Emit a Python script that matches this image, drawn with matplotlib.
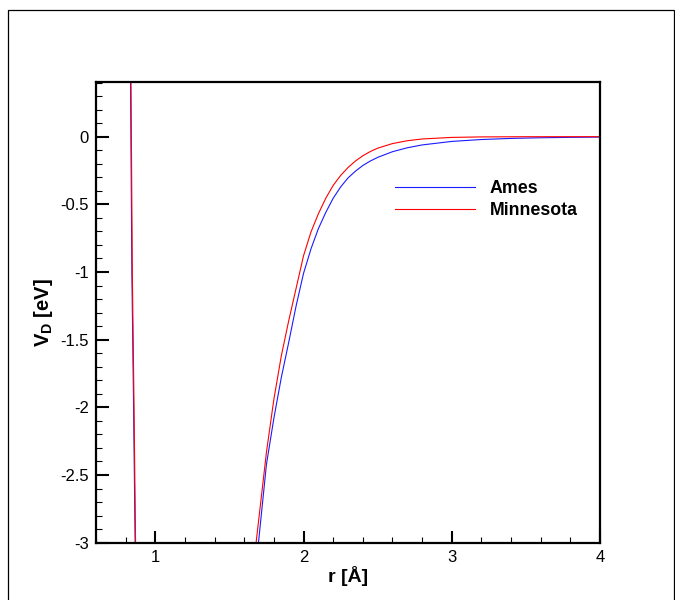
import matplotlib
matplotlib.use("Agg")
import matplotlib.pyplot as plt
from matplotlib.patches import Rectangle
from matplotlib.ticker import MultipleLocator, FixedLocator

plt.rcParams['font.family'] = ['Liberation Sans', 'DejaVu Sans']
plt.rcParams['axes.unicode_minus'] = False
plt.rcParams['mathtext.fontset'] = 'custom'
plt.rcParams['mathtext.bf'] = 'Liberation Sans:bold'
plt.rcParams['mathtext.rm'] = 'Liberation Sans'

# Ames potential
r_ames = [0.826, 0.833, 0.842, 0.853, 0.864, 0.869,
          1.660, 1.696, 1.750, 1.800, 1.850, 1.900, 1.950, 2.000, 2.050, 2.100,
          2.150, 2.200, 2.250, 2.300, 2.350, 2.400, 2.450, 2.500, 2.600, 2.700,
          2.800, 3.000, 3.200, 3.400, 3.600, 3.800, 4.000]
v_ames = [1.0, 0.4, -1.0, -1.95, -3.0, -3.5,
          -3.3, -3.0, -2.42, -2.08, -1.78, -1.52, -1.25, -1.01, -0.83, -0.68,
          -0.56, -0.455, -0.372, -0.305, -0.255, -0.213, -0.18, -0.153, -0.111, -0.082,
          -0.061, -0.035, -0.021, -0.0128, -0.008, -0.005, -0.003]

# Minnesota potential
r_minn = [0.829, 0.836, 0.845, 0.856, 0.867, 0.872,
          1.646, 1.680, 1.750, 1.800, 1.850, 1.900, 1.950, 2.000, 2.050, 2.100,
          2.150, 2.200, 2.250, 2.300, 2.350, 2.400, 2.450, 2.500, 2.600, 2.700,
          2.800, 3.000, 3.200, 3.500, 4.000]
v_minn = [1.0, 0.4, -1.0, -1.95, -3.0, -3.5,
          -3.3, -3.0, -2.33, -1.94, -1.62, -1.36, -1.12, -0.88, -0.705, -0.57,
          -0.455, -0.36, -0.287, -0.228, -0.18, -0.141, -0.11, -0.085, -0.051, -0.030,
          -0.017, -0.0054, -0.0017, -0.0003, 0.0]

labels = ["Ames", "Minnesota"]
x_major = [1, 2, 3, 4]
y_major = [0, -0.5, -1, -1.5, -2, -2.5, -3]
y_labels = ["0", "-0.5", "-1", "-1.5", "-2", "-2.5", "-3"]

fig = plt.figure(figsize=(6.75, 6.0), dpi=100)
ax = fig.add_axes([96/675, 1-542.7/600, 504/675, (542.7-82)/600])

ax.plot(r_ames, v_ames, color=(0.1, 0.1, 1.0), lw=0.8, label=labels[0])
ax.plot(r_minn, v_minn, color=(1.0, 0.0, 0.0), lw=0.8, label=labels[1])

ax.set_xlim(0.6, 4.0)
ax.set_ylim(-3.0, 0.404)

ax.xaxis.set_major_locator(FixedLocator(x_major))
ax.xaxis.set_minor_locator(MultipleLocator(0.2))
ax.set_yticks(y_major)
ax.set_yticklabels(y_labels)
ax.yaxis.set_minor_locator(MultipleLocator(0.1))

ax.tick_params(which='both', direction='in', top=False, right=False, labelsize=12)
ax.tick_params(which='major', length=9, width=1.5, pad=5)
ax.tick_params(which='minor', length=4, width=0.8)
for s in ax.spines.values():
    s.set_linewidth(1.6)

ax.set_xlabel("r [Å]", fontsize=14, fontweight='bold', labelpad=1)
ax.set_ylabel("V$_{\\mathbf{D}}$ [eV]", fontsize=14.5, fontweight='bold', labelpad=4)

leg = ax.legend(loc='upper left', bbox_to_anchor=(0.593, 0.787), frameon=False,
                prop={'weight': 'bold', 'size': 12.8}, handlelength=4.5,
                handletextpad=0.85, labelspacing=0.3, borderpad=0, borderaxespad=0)

fig.patches.append(Rectangle((8/675, -0.05), 665.5/675, 1.05 - 10/600, transform=fig.transFigure,
                             fill=False, edgecolor='black', lw=0.9))

fig.savefig("out.png", dpi=100)
